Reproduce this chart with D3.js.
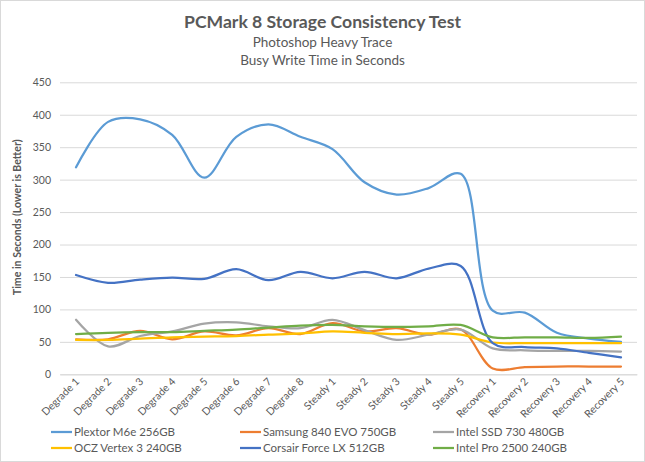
<!DOCTYPE html>
<html>
<head>
<meta charset="utf-8">
<script src="https://cdn.jsdelivr.net/npm/d3@7"></script>
<style>
html,body{margin:0;padding:0;background:#fff;}
svg{display:block;font-family:Lato, "Open Sans", sans-serif;}
</style>
</head>
<body>
<svg id="chart" width="645" height="462"></svg>
<script>
const categories = ["Degrade 1","Degrade 2","Degrade 3","Degrade 4","Degrade 5","Degrade 6","Degrade 7","Degrade 8",
  "Steady 1","Steady 2","Steady 3","Steady 4","Steady 5",
  "Recovery 1","Recovery 2","Recovery 3","Recovery 4","Recovery 5"];
const seriesNames = ["Plextor M6e 256GB","Samsung 840 EVO 750GB","Intel SSD 730 480GB","OCZ Vertex 3 240GB","Corsair Force LX 512GB","Intel Pro 2500 240GB"];
const plextor  = [319,389,393,369,303,366,385,366,347,296,277,287,309,98,95,64,55,50];
const samsung  = [54,54,67,54,66,60,71,62,79,66,71,61,69,9,11,12,12,12];
const intel730 = [84,43,59,66,78,80,74,71,84,68,53,61,69,40,37,36,36,35];
const ocz      = [53,53,55,57,58,59,61,63,66,64,62,63,61,49,48,48,48,48];
const corsair  = [153,141,146,149,147,162,145,158,148,158,148,163,167,48,42,40,33,26];
const intelPro = [62,64,65,65,67,69,72,75,76,74,73,74,76,57,57,57,56,58];
const yTicks = [0,50,100,150,200,250,300,350,400,450];
const colors = ["#5B9BD5","#ED7D31","#A5A5A5","#FFC000","#4472C4","#70AD47"];
const seriesValues = [plextor, samsung, intel730, ocz, corsair, intelPro];

const svg = d3.select("#chart");
const W = 645, H = 462;
const textColor = "#595959";

svg.append("rect").attr("x",0.5).attr("y",0.5).attr("width",W-1).attr("height",H-1)
  .attr("fill","#fff").attr("stroke","#d9d9d9");

const pLeft = 60, pRight = 637, pTop = 82.3, pBottom = 374.3;
const x = d3.scaleBand().domain(categories).range([pLeft, pRight]);
const y = d3.scaleLinear().domain([0,450]).range([pBottom, pTop]);

// Titles
svg.append("text").attr("x", W/2).attr("y", 28).attr("text-anchor","middle")
  .attr("font-size",17.6).attr("font-weight","bold").attr("fill",textColor)
  .text("PCMark 8 Storage Consistency Test");
svg.append("text").attr("x", W/2).attr("y", 47).attr("text-anchor","middle")
  .attr("font-size",13.5).attr("fill",textColor).text("Photoshop Heavy Trace");
svg.append("text").attr("x", W/2).attr("y", 65).attr("text-anchor","middle")
  .attr("font-size",13.5).attr("fill",textColor).text("Busy Write Time in Seconds");

// Gridlines
const yAxis = d3.axisLeft(y).tickValues(yTicks).tickSize(-(pRight-pLeft)).tickPadding(9);
const gy = svg.append("g").attr("transform",`translate(${pLeft},0)`).call(yAxis);
gy.select(".domain").remove();
gy.selectAll(".tick line").attr("stroke","#d9d9d9").attr("stroke-width",1);
gy.selectAll(".tick text").attr("fill",textColor).attr("font-size",10.5)
  .attr("font-family","Lato, sans-serif");

// X axis
const xAxis = d3.axisBottom(x).tickSize(0).tickPadding(0);
const gx = svg.append("g").attr("transform",`translate(0,${pBottom})`).call(xAxis);
gx.select(".domain").attr("stroke","#d9d9d9");
gx.selectAll(".tick text").attr("fill",textColor).attr("font-size",10.5)
  .attr("font-family","Lato, sans-serif")
  .attr("text-anchor","end").attr("dy",0)
  .attr("transform","translate(4,8) rotate(-45)");

// Y axis title
svg.append("text").attr("transform",`translate(21,${(pTop+pBottom)/2 - 11}) rotate(-90)`)
  .attr("text-anchor","middle").attr("font-size",10.6).attr("font-weight","bold")
  .attr("fill",textColor).text("Time in Seconds (Lower is Better)");

// Lines
const line = d3.line()
  .x((d,i)=> x(categories[i]) + x.bandwidth()/2)
  .y(d=> y(d))
  .curve(d3.curveCatmullRom.alpha(0.5));
seriesValues.forEach((vals,k)=>{
  svg.append("path").attr("d", line(vals)).attr("fill","none")
    .attr("stroke",colors[k]).attr("stroke-width",2.25).attr("stroke-linecap","round");
});

// Legend
const legX = [51, 240, 433];
const legY = [432, 448];
seriesNames.forEach((name,k)=>{
  const col = k % 3, row = Math.floor(k/3);
  const g = svg.append("g").attr("transform",`translate(${legX[col]},${legY[row]})`);
  g.append("line").attr("x1",0).attr("x2",21).attr("y1",0).attr("y2",0)
    .attr("stroke",colors[k]).attr("stroke-width",2.25);
  g.append("text").attr("x",23).attr("y",4).attr("font-size",11.5).attr("fill",textColor).text(name);
});
</script>
</body>
</html>
